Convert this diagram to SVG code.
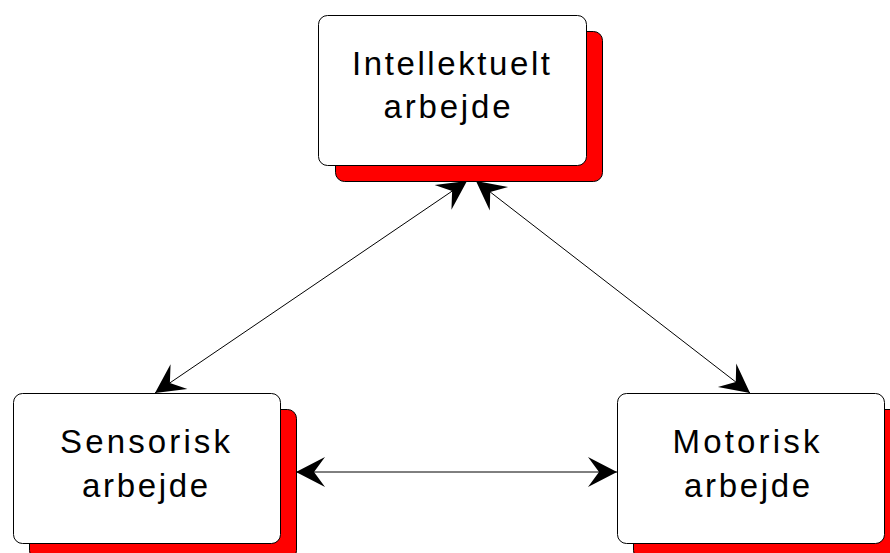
<svg xmlns="http://www.w3.org/2000/svg" width="890" height="553" viewBox="0 0 890 553">
<style>
.shadow{fill:#ff0000;stroke:#000;stroke-width:1}
.box{fill:#fff;stroke:#000;stroke-width:1}
.lbl{font-family:"Liberation Sans",Arial,sans-serif;font-size:33px;fill:#000;text-anchor:middle}
.conn{stroke:#000;stroke-width:1;fill:none;marker-start:url(#ah);marker-end:url(#ah)}
</style>
<defs>
<marker id="ah" markerUnits="userSpaceOnUse" viewBox="-32 -16 34 32" refX="0" refY="0" markerWidth="34" markerHeight="32" orient="auto-start-reverse" overflow="visible">
<path d="M0,0 L-29,-15 L-18,0 L-29,15 Z" fill="#000"/>
</marker>
</defs>
<rect width="890" height="553" fill="#fff"/>
<g id="connectors">
<line class="conn" x1="155" y1="393" x2="467" y2="181"/>
<line class="conn" x1="476" y1="181" x2="750" y2="393"/>
<line class="conn" x1="296" y1="472" x2="617" y2="472"/>
</g>
<g id="intellektuelt">
<rect class="shadow" x="335.5" y="31.5" width="267" height="150" rx="9"/>
<rect class="box" x="318.5" y="15.5" width="268" height="150" rx="9"/>
<text class="lbl" x="451" y="75" textLength="198" lengthAdjust="spacing">Intellektuelt</text>
<text class="lbl" x="447" y="118" textLength="127" lengthAdjust="spacing">arbejde</text>
</g>
<g id="sensorisk">
<rect class="shadow" x="29.5" y="409.5" width="267" height="150" rx="9"/>
<rect class="box" x="13.5" y="393.5" width="267" height="150" rx="9"/>
<text class="lbl" x="145" y="453" textLength="170" lengthAdjust="spacing">Sensorisk</text>
<text class="lbl" x="145" y="497" textLength="126" lengthAdjust="spacing">arbejde</text>
</g>
<g id="motorisk">
<rect class="shadow" x="633.5" y="409.5" width="267" height="150" rx="9"/>
<rect class="box" x="617.5" y="393.5" width="267" height="150" rx="9"/>
<text class="lbl" x="746" y="453" textLength="147" lengthAdjust="spacing">Motorisk</text>
<text class="lbl" x="747" y="497" textLength="126" lengthAdjust="spacing">arbejde</text>
</g>
</svg>
